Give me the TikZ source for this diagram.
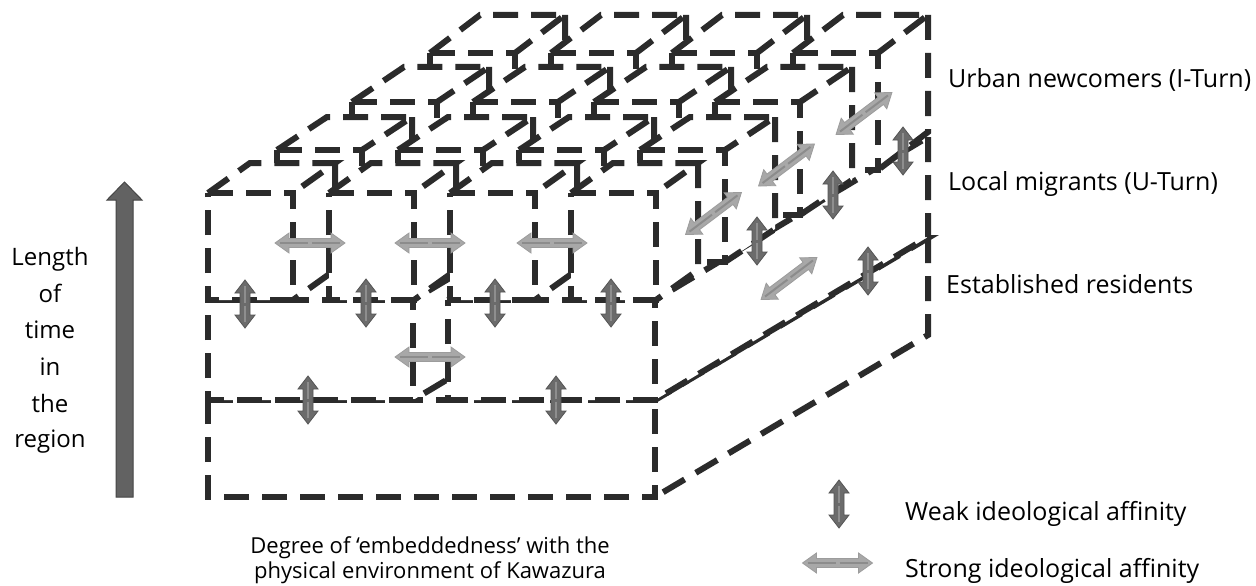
\documentclass[tikz,border=0pt]{standalone}
\usepackage{fontspec}
\setmainfont{Open Sans}
\definecolor{lc}{HTML}{2B2B2B}
\definecolor{wfill}{HTML}{6B6B6B}
\definecolor{wedge}{HTML}{555555}
\definecolor{wcen}{HTML}{8E8E8E}
\definecolor{sfill}{HTML}{A8A8A8}
\definecolor{sedge}{HTML}{9C9C9C}
\definecolor{scen}{HTML}{8C8C8C}
\definecolor{bigfill}{HTML}{626262}
\definecolor{bigedge}{HTML}{454545}
\tikzset{
  dl/.style={draw=lc, line width=6pt, dash pattern=on 25pt off 13pt},
  lbl/.style={font=\fontsize{24}{28}\selectfont, inner sep=0pt, text=black},
  rlbl/.style={font=\fontsize{25}{29}\selectfont, inner sep=0pt, text=black},
  sml/.style={font=\fontsize{22}{26}\selectfont, inner sep=0pt, text=black},
  weakarr/.pic={
    \path[fill=wfill, draw=wedge, line width=0.8pt] (0,-24) -- (10,-11) -- (5,-11) -- (5,11) -- (10,11) -- (0,24) -- (-10,11) -- (-5,11) -- (-5,-11) -- (-10,-11) -- cycle;
    \draw[wcen, line width=2.5pt] (0,-18) -- (0,-1.5) (0,1.5) -- (0,18);
  },
  strongarr/.pic={
    \path[fill=sfill, draw=sedge, line width=0.8pt] (-35,0) -- (-21,-10) -- (-21,-4.5) -- (21,-4.5) -- (21,-10) -- (35,0) -- (21,10) -- (21,4.5) -- (-21,4.5) -- (-21,10) -- cycle;
    \draw[scen, line width=2pt] (-30,0) -- (-2,0) (2,0) -- (30,0);
  }
}
% x y w h dx dy  (dy measured upwards)
\newcommand\drawcube[6]{%
  \fill[white] (#1,#2) -- (#1+#5,#2-#6) -- (#1+#3+#5,#2-#6) -- (#1+#3+#5,#2+#4-#6) -- (#1+#3,#2+#4) -- (#1,#2+#4) -- cycle;
  \draw[dl] (#1,#2) -- (#1+#3,#2) -- (#1+#3,#2+#4) -- (#1,#2+#4) -- cycle;
  \draw[dl] (#1,#2) -- (#1+#5,#2-#6) -- (#1+#3+#5,#2-#6) -- (#1+#3,#2);
  \draw[dl] (#1+#3+#5,#2-#6) -- (#1+#3+#5,#2+#4-#6) -- (#1+#3,#2+#4);
}
\begin{document}
\begin{tikzpicture}[x=1pt,y=-1pt]
\fill[white] (0,0) rectangle (1256,586);
\useasboundingbox (0,0) rectangle (1256,586);

% lower slabs
\drawcube{208}{400}{447}{97}{273}{162}
\drawcube{208}{300}{205}{100}{273}{163}
\drawcube{448}{300}{207}{100}{273}{163}

% top level cubes, back to front
\foreach \c in {0,...,3}{\drawcube{430+121*\c}{53}{85}{117}{50}{38}}
\foreach \c in {0,...,3}{\drawcube{352+121*\c}{102}{85}{113}{52}{35}}
\foreach \c in {0,...,3}{\drawcube{277+121*\c}{150}{85}{112}{50}{33}}
\foreach \c in {0,...,3}{\drawcube{208+121*\c}{193}{85}{107}{42}{30}}

% strong affinity arrows
\pic at (310,243) {strongarr};
\pic at (430,243) {strongarr};
\pic at (552,243) {strongarr};
\pic at (430,357) {strongarr};
\pic[rotate=37] at (713.5,213.5) {strongarr};
\pic[rotate=37] at (786.5,165) {strongarr};
\pic[rotate=37] at (864,113.5) {strongarr};
\pic[rotate=37] at (789,278.5) {strongarr};

% weak affinity arrows
\pic at (245,304) {weakarr};
\pic at (366,303) {weakarr};
\pic at (495,303) {weakarr};
\pic at (611,303) {weakarr};
\pic at (308,400) {weakarr};
\pic at (556,400) {weakarr};
\pic at (757,241) {weakarr};
\pic at (833,195) {weakarr};
\pic at (903,151) {weakarr};
\pic at (868,271) {weakarr};

% big arrow
\path[fill=bigfill, draw=bigedge, line width=1pt] (116,497) -- (116,200) -- (107,200) -- (124.5,182) -- (142,200) -- (133,200) -- (133,497) -- cycle;

% left labels
\node[lbl, anchor=base] (l1) at (50,265) {Length};
\node[lbl, anchor=base] (l2) at (50,302) {of};
\node[lbl, anchor=base] (l3) at (50,338) {time};
\node[lbl, anchor=base] (l4) at (50,375) {in};
\node[lbl, anchor=base] (l5) at (50,412) {the};
\node[lbl, anchor=base] (l6) at (50,447) {region};

% right labels
\node[rlbl, anchor=base west] (urb) at (948,88) {Urban newcomers (I-Turn)};
\node[rlbl, anchor=base west] (loc) at (948,190) {Local migrants (U-Turn)};
\node[rlbl, anchor=base west] (est) at (946,293) {Established residents};

% bottom label
\node[sml, anchor=base] (b1) at (430,553) {Degree of ‘embeddedness’ with the};
\node[sml, anchor=base] (b2) at (430,578) {physical environment of Kawazura};

% legend
\pic at (839,504) {weakarr};
\pic at (837.5,563) {strongarr};
\node[rlbl, anchor=base west] (weak) at (905,520) {Weak ideological affinity};
\node[rlbl, anchor=base west] (strong) at (905,577) {Strong ideological affinity};
\end{tikzpicture}
\end{document}
